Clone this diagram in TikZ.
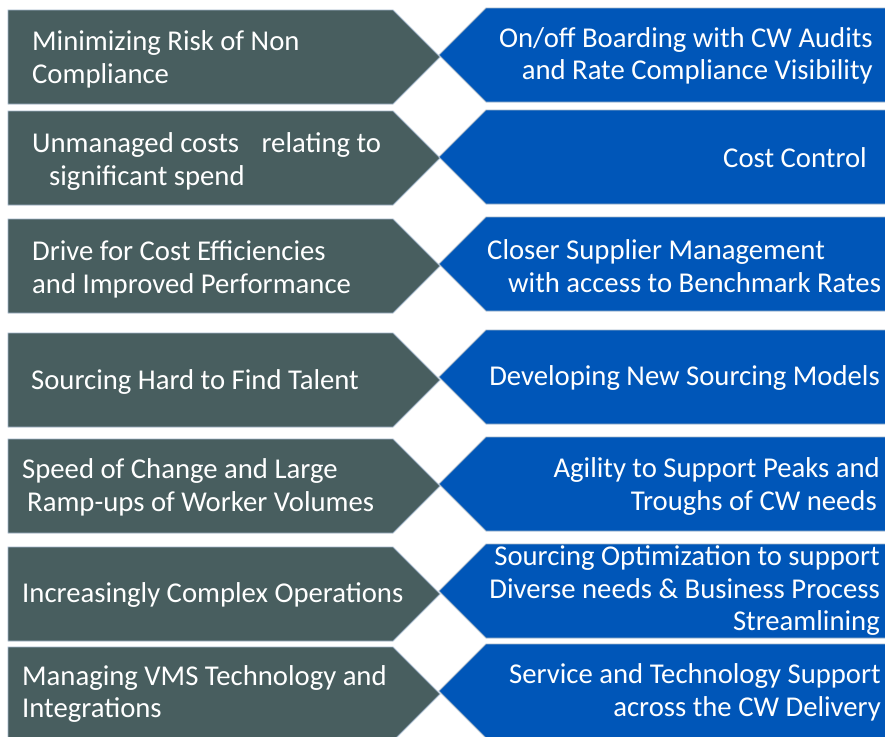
\documentclass[tikz,border=0pt]{standalone}
\usepackage{fontspec}
\setmainfont{Carlito}
\definecolor{slate}{RGB}{72,94,95}
\definecolor{cwblue}{RGB}{0,86,184}
\definecolor{edge}{RGB}{160,180,200}
\begin{document}
\begin{tikzpicture}[x=1pt,y=-1pt,
  leftbox/.style={fill=slate,draw=edge,line width=0.9pt},
  rightbox/.style={fill=cwblue,draw=edge,line width=0.9pt},
  txt/.style={text=white,inner sep=0pt,font=\fontsize{28.7}{32.5}\selectfont},
  ltxt/.style={txt,anchor=west,align=left},
  rtxt/.style={txt,anchor=east,align=right}]
\useasboundingbox (0,0) rectangle (885,736);
\clip (0,0) rectangle (885,736);
\fill[white] (0,0) rectangle (885,736);
% left shapes
\foreach \t in {10,111,219,333,439,547,647}{
  \draw[leftbox] (8,\t) -- (393,\t) -- (440,\t+47) -- (393,\t+94) -- (8,\t+94) -- cycle;
}
% right shapes
\foreach \t in {8,110,217,330,437,544,644}{
  \draw[rightbox] (486,\t) -- (895,\t) -- (895,\t+94) -- (486,\t+94) -- (439,\t+47) -- cycle;
}
% left texts
\node[ltxt] (l1) at (32,59.5) {Minimizing Risk of Non\\Compliance};
\node[ltxt] (l2) at (32,161.5) {Unmanaged costs\hspace{16pt} relating to\\\hspace*{17pt}significant spend};
\node[ltxt] (l3) at (32,269.5) {Drive for Cost Efficiencies\\and Improved Performance};
\node[ltxt] (l4) at (31,382) {Sourcing Hard to Find Talent};
\node[ltxt] (l5) at (22,487.5) {Speed of Change and Large\\\hspace*{5pt}Ramp-ups of Worker Volumes};
\node[ltxt] (l6) at (22,595) {Increasingly Complex Operations};
\node[ltxt] (l7) at (22,694) {Managing VMS Technology and\\Integrations};
% right texts
\node[rtxt] (r1) at (873,56) {On/off Boarding with CW Audits\\and Rate Compliance Visibility};
\node[rtxt] (r2) at (867,158) {Cost Control};
\node[ltxt] (r3) at (487,266) {Closer Supplier Management\\\hspace*{21pt}with access to Benchmark Rates};
\node[rtxt] (r4) at (880,378) {Developing New Sourcing Models};
\node[rtxt] (r5) at (880,486.5) {Agility to Support Peaks and\\Troughs of CW needs\hspace*{3pt}};
\node[rtxt] (r6) at (880,591) {Sourcing Optimization to support\\Diverse needs \& Business Process\\Streamlining};
\node[rtxt] (r7) at (881,692.5) {Service and Technology Support\\across the CW Delivery};
\end{tikzpicture}
\end{document}
